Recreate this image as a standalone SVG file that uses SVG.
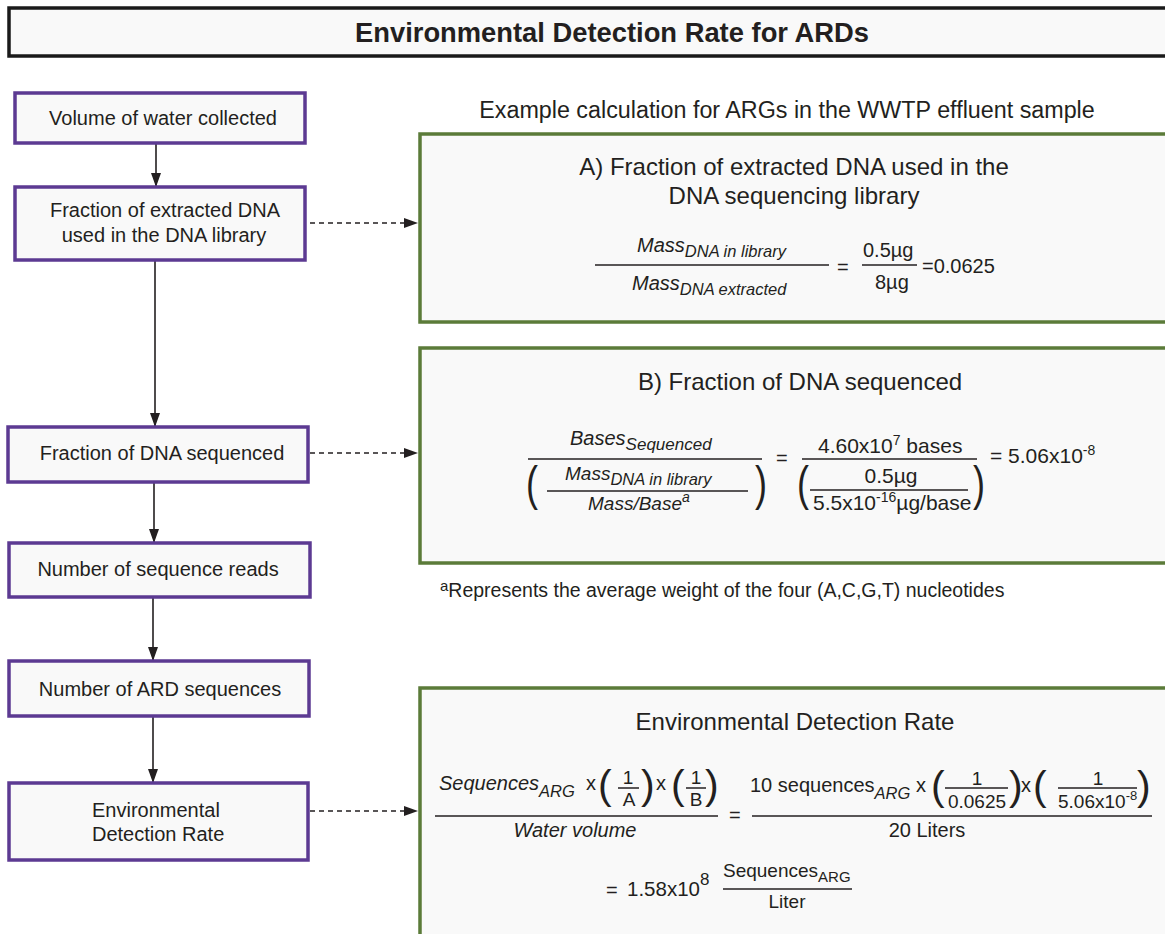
<svg xmlns="http://www.w3.org/2000/svg" width="1165" height="934" viewBox="0 0 1165 934">
<style>
text{font-family:"Liberation Sans",Arial,Helvetica,sans-serif;fill:#231f20}
.box{fill:#f9f9f9;stroke:#5c3a92;stroke-width:3.5}
.gbox{fill:#f9f9f9;stroke:#5b7b39;stroke-width:3.5}
.lbl{font-size:20px}
.mid{text-anchor:middle}
.i{font-style:italic}
.f20{font-size:20px}
.f21{font-size:21px}
.f19{font-size:19px}
.sub{font-size:16.5px}
.sup{font-size:14px}
.fl{stroke:#231f20;stroke-width:1.5;fill:none}
.con{stroke:#231f20;stroke-width:1.6;fill:none}
.dash{stroke-dasharray:5 4}
.par{font-size:41px}
.bpar{font-size:48px}
</style>
<defs>
<marker id="ah" markerUnits="userSpaceOnUse" markerWidth="14" markerHeight="10" refX="14" refY="5" orient="auto">
<path d="M0,0 L14,5 L0,10 Z" fill="#231f20"/>
</marker>
</defs>
<rect width="1165" height="934" fill="#ffffff"/>

<g id="title">
<rect x="9" y="8" width="1170" height="48" fill="#f9f9f9" stroke="#1a1a1a" stroke-width="3.5"/>
<text x="612" y="42" class="mid" style="font-size:27px;font-weight:bold" textLength="514" lengthAdjust="spacingAndGlyphs">Environmental Detection Rate for ARDs</text>
</g>

<g id="connectors">
<line class="con" x1="156" y1="144" x2="156" y2="187" marker-end="url(#ah)"/>
<line class="con" x1="155" y1="261" x2="155" y2="427" marker-end="url(#ah)"/>
<line class="con" x1="154" y1="483" x2="154" y2="543" marker-end="url(#ah)"/>
<line class="con" x1="153" y1="598" x2="153" y2="661" marker-end="url(#ah)"/>
<line class="con" x1="153" y1="717" x2="153" y2="783" marker-end="url(#ah)"/>
<line class="con dash" x1="310" y1="223" x2="418" y2="223" marker-end="url(#ah)"/>
<line class="con dash" x1="310" y1="453" x2="418" y2="453" marker-end="url(#ah)"/>
<line class="con dash" x1="310" y1="811" x2="418" y2="811" marker-end="url(#ah)"/>
</g>

<g id="n1">
<rect class="box" x="15" y="93" width="290" height="50"/>
<text class="lbl mid" x="163" y="125">Volume of water collected</text>
</g>
<g id="n2">
<rect class="box" x="15" y="187" width="290" height="73"/>
<text class="lbl mid" x="165" y="217">Fraction of extracted DNA</text>
<text class="lbl mid" x="164" y="242">used in the DNA library</text>
</g>
<g id="n3">
<rect class="box" x="8" y="427" width="300" height="55"/>
<text class="lbl mid" x="162" y="460">Fraction of DNA sequenced</text>
</g>
<g id="n4">
<rect class="box" x="9" y="543" width="301" height="54"/>
<text class="lbl mid" x="158" y="576">Number of sequence reads</text>
</g>
<g id="n5">
<rect class="box" x="9" y="661" width="300" height="55"/>
<text class="lbl mid" x="160" y="696">Number of ARD sequences</text>
</g>
<g id="n6">
<rect class="box" x="9" y="783" width="299" height="77"/>
<text class="lbl" x="92" y="817">Environmental</text>
<text class="lbl" x="92" y="841">Detection Rate</text>
</g>

<text x="787" y="118" class="mid" style="font-size:23.3px">Example calculation for ARGs in the WWTP effluent sample</text>

<g id="panelA">
<rect class="gbox" x="420" y="134" width="760" height="188"/>
<text x="794" y="175" class="mid" style="font-size:24px">A) Fraction of extracted DNA used in the</text>
<text x="794" y="204" class="mid" style="font-size:24px">DNA sequencing library</text>
<text x="637" y="252" class="i f20">Mass<tspan class="sub" dy="5">DNA in library</tspan></text>
<line class="fl" x1="595" y1="265" x2="829" y2="265"/>
<text x="632" y="290" class="i f20">Mass<tspan class="sub" dy="5">DNA extracted</tspan></text>
<text x="837" y="274" class="f20">=</text>
<text x="863" y="257" class="f20">0.5µg</text>
<line class="fl" x1="862" y1="265" x2="917" y2="265"/>
<text x="875" y="289" class="f20">8µg</text>
<text x="922" y="273" class="f20">=0.0625</text>
</g>

<g id="panelB">
<rect class="gbox" x="420" y="348" width="760" height="215"/>
<text x="800" y="390" class="mid" style="font-size:24px">B) Fraction of DNA sequenced</text>
<text x="570" y="445" class="i f20">Bases<tspan style="font-size:17px" dy="5">Sequenced</tspan></text>
<line class="fl" x1="528" y1="459" x2="762" y2="459"/>
<text class="bpar" transform="translate(526,500) scale(0.75,1)">(</text>
<text class="bpar" transform="translate(755,500) scale(0.75,1)">)</text>
<text x="565" y="480" class="i f19">Mass<tspan class="sub" dy="5">DNA in library</tspan></text>
<line class="fl" x1="547" y1="491" x2="748" y2="491"/>
<text x="588" y="510" class="i f19">Mass/Base<tspan class="sup" dy="-8">a</tspan></text>
<text x="776" y="465" class="f20">=</text>
<text x="818" y="453" class="f21">4.60x10<tspan class="sup" dy="-8">7</tspan><tspan dy="8"> bases</tspan></text>
<line class="fl" x1="802" y1="459" x2="977" y2="459"/>
<text class="bpar" transform="translate(797,500) scale(0.75,1)">(</text>
<text class="bpar" transform="translate(973,500) scale(0.75,1)">)</text>
<text x="891" y="483" class="f21 mid">0.5µg</text>
<line class="fl" x1="810" y1="490" x2="968" y2="490"/>
<text x="813" y="510" class="f21">5.5x10<tspan class="sup" dy="-8">-16</tspan><tspan dy="8">µg/base</tspan></text>
<text x="990" y="463" class="f21">= 5.06x10<tspan class="sup" dy="-8">-8</tspan></text>
</g>

<text x="440" y="597" style="font-size:19.5px"><tspan style="font-size:15px" dy="-6">a</tspan><tspan dy="6">Represents the average weight of the four (A,C,G,T) nucleotides</tspan></text>

<g id="panelC">
<rect class="gbox" x="420" y="688" width="760" height="260"/>
<text x="795" y="730" class="mid" style="font-size:24px">Environmental Detection Rate</text>
<text x="439" y="790" class="i f20">Sequences<tspan class="sub" dy="7">ARG</tspan></text>
<text x="586" y="790" class="f20">x</text>
<text x="598" y="799" class="par">(</text>
<text x="628" y="784" class="f19 mid">1</text>
<line class="fl" x1="618" y1="788" x2="639" y2="788"/>
<text x="629" y="806" class="f19 mid">A</text>
<text x="641" y="799" class="par">)</text>
<text x="656" y="790" class="f20">x</text>
<text x="671" y="799" class="par">(</text>
<text x="696" y="784" class="f19 mid">1</text>
<line class="fl" x1="686" y1="788" x2="706" y2="788"/>
<text x="696" y="806" class="f19 mid">B</text>
<text x="705" y="799" class="par">)</text>
<line class="fl" x1="435" y1="816" x2="718" y2="816"/>
<text x="575" y="837" class="i f20 mid">Water volume</text>
<text x="729" y="822" class="f20">=</text>
<text x="750" y="792" class="f20">10 sequences<tspan class="sub i" dy="7">ARG</tspan></text>
<text x="916" y="792" class="f20">x</text>
<text x="931" y="800" class="par">(</text>
<text x="977" y="785" class="f19 mid">1</text>
<line class="fl" x1="945" y1="788" x2="1008" y2="788"/>
<text x="977" y="808" class="f19 mid">0.0625</text>
<text x="1009" y="800" class="par">)</text>
<text x="1021" y="792" class="f20">x</text>
<text x="1033" y="800" class="par">(</text>
<text x="1098" y="785" class="f19 mid">1</text>
<line class="fl" x1="1058" y1="788" x2="1137" y2="788"/>
<text x="1058" y="808" class="f19">5.06x10<tspan style="font-size:13px" dy="-8">-8</tspan></text>
<text x="1137" y="800" class="par">)</text>
<line class="fl" x1="752" y1="816" x2="1152" y2="816"/>
<text x="927" y="837" class="f20 mid">20 Liters</text>
<text x="606" y="897" class="f20">=</text>
<text x="627" y="896" style="font-size:20.5px">1.58x10<tspan style="font-size:17px" dy="-11">8</tspan></text>
<text x="723" y="877" class="f19">Sequences<tspan style="font-size:15px" dy="5">ARG</tspan></text>
<line class="fl" x1="723" y1="889" x2="852" y2="889"/>
<text x="787" y="908" class="f19 mid">Liter</text>
</g>
</svg>
